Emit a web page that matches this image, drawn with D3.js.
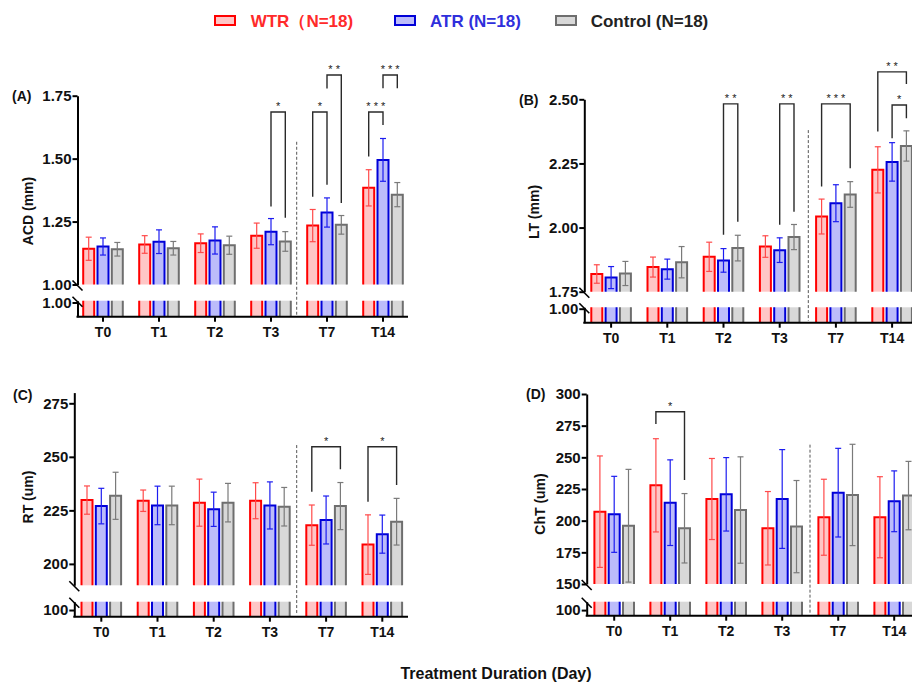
<!DOCTYPE html>
<html>
<head>
<meta charset="utf-8">
<script src="https://cdn.jsdelivr.net/npm/d3@7"></script>
<style>
  body { margin: 0; background: #fff; }
  svg { font-family: "Liberation Sans", Arial, sans-serif; font-weight: bold; }
</style>
</head>
<body>
<script>
const groups = ["T0", "T1", "T2", "T3", "T7", "T14"];
const seriesNames = ["WTR（N=18)", "ATR (N=18)", "Control (N=18)"];

// means / SD per series: [WTR, ATR, Control]
const acdMean = [[1.142, 1.159, 1.164, 1.194, 1.234, 1.384],
                 [1.151, 1.170, 1.175, 1.210, 1.286, 1.495],
                 [1.140, 1.144, 1.156, 1.171, 1.237, 1.357]];
const acdSD = [[0.046, 0.035, 0.037, 0.050, 0.064, 0.072],
               [0.034, 0.047, 0.054, 0.052, 0.058, 0.085],
               [0.027, 0.027, 0.036, 0.039, 0.037, 0.048]];

const ltMean = [[1.819, 1.846, 1.886, 1.926, 2.043, 2.225],
                [1.805, 1.838, 1.872, 1.912, 2.095, 2.256],
                [1.821, 1.865, 1.920, 1.963, 2.129, 2.318]];
const ltSD = [[0.036, 0.039, 0.057, 0.042, 0.068, 0.090],
              [0.043, 0.039, 0.046, 0.048, 0.072, 0.075],
              [0.047, 0.061, 0.050, 0.049, 0.050, 0.059]];

const rtMean = [[229.8, 229.5, 228.6, 229.5, 218.1, 209.0],
                [227.0, 227.3, 225.5, 227.3, 220.5, 213.9],
                [231.8, 227.3, 228.6, 226.7, 227.0, 219.7]];
const rtSD = [[6.6, 5.0, 11.0, 8.4, 9.4, 13.9],
              [8.3, 9.0, 8.0, 11.0, 11.2, 8.9],
              [11.0, 9.0, 9.0, 9.0, 11.0, 10.9]];

const chtMean = [[207.1, 227.9, 217.1, 194.0, 202.7, 202.7],
                 [205.0, 214.2, 220.8, 217.1, 222.1, 215.3],
                 [196.0, 194.0, 208.4, 195.3, 220.3, 219.8]];
const chtSD = [[44.0, 36.8, 32.0, 29.0, 30.0, 32.0],
               [30.0, 33.8, 29.0, 39.0, 35.0, 24.0],
               [44.5, 27.4, 42.0, 36.4, 40.0, 27.0]];

// significance: [group, from series, to series, label, bracket top, left leg end, right leg end]
const acdSig = [["T3", 1, 2, "*", 1.685, 1.310, 1.265],
                ["T7", 0, 1, "*", 1.685, 1.349, 1.396],
                ["T7", 1, 2, "**", 1.832, 1.779, 1.324],
                ["T14", 0, 1, "***", 1.685, 1.508, 1.634],
                ["T14", 1, 2, "***", 1.832, 1.780, 1.780]];
const ltSig = [["T2", 1, 2, "**", 2.482, 1.972, 2.023],
               ["T3", 1, 2, "**", 2.482, 2.011, 2.062],
               ["T7", 0, 2, "***", 2.482, 2.160, 2.231],
               ["T14", 0, 2, "**", 2.607, 2.374, 2.560],
               ["T14", 1, 2, "*", 2.478, 2.348, 2.426]];
const rtSig = [["T7", 0, 2, "*", 254.7, 233.7, 244.2],
               ["T14", 0, 2, "*", 254.7, 229.0, 236.8]];
const chtSig = [["T1", 0, 2, "*", 286, 276.3, 232.1]];

const acdTicks = [1.00, 1.25, 1.50, 1.75],
      ltTicks = [1.75, 2.00, 2.25, 2.50],
      rtTicks = [200, 225, 250, 275],
      chtTicks = [150, 175, 200, 225, 250, 275, 300];

const strokeCol = ["#ff0000", "#0000d8", "#6e6e6e"],
      fillCol = ["#ffc6c6", "#bcbcfa", "#d8d8d8"],
      errCol = ["#ff4a4a", "#1c1cf0", "#7a7a7a"],
      legendText = ["#ff2a2a", "#2f2fdc", "#222"];

const width = 912, height = 684;
const svg = d3.select("body").append("svg")
  .attr("width", width).attr("height", height);

const panels = [
  {tag: "(A)", title: "ACD (mm)", mean: acdMean, sd: acdSD, sig: acdSig, ticks: acdTicks, fmt: d3.format(".2f"),
   axisX: 77.5, x0: 75, step: 56, xEnd: 408, axisY: 316.7,
   upDomain: [1.00, 1.75], upRange: [284.5, 95.7], lowDomain: [0.6, 1.05], lowRange: [316.7, 300.7], lowTick: 1.00,
   dashX: 296.7, dashTop: 1.567, titleX: 28, titleY: 211, tagX: 12, tagY: 101},
  {tag: "(B)", title: "LT (mm)", mean: ltMean, sd: ltSD, sig: ltSig, ticks: ltTicks, fmt: d3.format(".2f"),
   axisX: 584.3, x0: 583, step: 56.2, xEnd: 912, axisY: 322.7,
   upDomain: [1.75, 2.50], upRange: [291.7, 99.3], lowDomain: [0.6, 1.04], lowRange: [322.7, 307.3], lowTick: 1.00,
   dashX: 808.3, dashTop: 2.38, titleX: 534, titleY: 212, tagX: 519, tagY: 105},
  {tag: "(C)", title: "RT (um)", mean: rtMean, sd: rtSD, sig: rtSig, ticks: rtTicks, fmt: d3.format("d"),
   axisX: 74.3, x0: 73.2, step: 56.2, xEnd: 408, axisY: 616.7,
   upDomain: [190, 280], upRange: [585.3, 392.6], lowDomain: [80, 125], lowRange: [616.7, 601.7], lowTick: 100,
   dashX: 296.7, dashTop: 255.5, titleX: 28, titleY: 497, tagX: 13, tagY: 400},
  {tag: "(D)", title: "ChT (um)", mean: chtMean, sd: chtSD, sig: chtSig, ticks: chtTicks, fmt: d3.format("d"),
   axisX: 586.7, x0: 586.2, step: 56, xEnd: 912, axisY: 615.7,
   upDomain: [150, 300], upRange: [584, 394], lowDomain: [80, 130], lowRange: [615.7, 601.7], lowTick: 100,
   dashX: 810, dashTop: 260, titleX: 540, titleY: 504, tagX: 526, tagY: 399}
];

const barW = 11, offs = [-14.3, 0, 14.3], capW = 6;

panels.forEach(function(p) {
  const g = svg.append("g");

  const x = d3.scaleBand().domain(groups).range([p.x0, p.x0 + p.step * groups.length]);
  const yU = d3.scaleLinear().domain(p.upDomain).range(p.upRange);
  const yL = d3.scaleLinear().domain(p.lowDomain).range(p.lowRange);
  const cx = (grp, s) => x(grp) + x.bandwidth() / 2 + offs[s];

  // dashed separator between T3 and T7
  g.append("line")
    .attr("x1", p.dashX).attr("x2", p.dashX)
    .attr("y1", yU(p.dashTop)).attr("y2", p.axisY - 2)
    .attr("stroke", "#555").attr("stroke-width", 1)
    .attr("stroke-dasharray", "3,2");

  // bars: upper and lower segment
  for (let s = 0; s < 3; s++) {
    const bars = g.append("g").selectAll("g")
      .data(groups.map((grp, i) => ({grp: grp, v: p.mean[s][i], sd: p.sd[s][i]})))
      .join("g");

    bars.append("rect")
      .attr("x", d => cx(d.grp, s) - barW / 2)
      .attr("y", d => yU(d.v))
      .attr("width", barW)
      .attr("height", d => yU(p.upDomain[0]) - yU(d.v))
      .attr("fill", fillCol[s]);
    bars.append("path")
      .attr("d", d => `M${cx(d.grp, s) - barW / 2},${yU(p.upDomain[0])}V${yU(d.v)}H${cx(d.grp, s) + barW / 2}V${yU(p.upDomain[0])}`)
      .attr("fill", "none").attr("stroke", strokeCol[s]).attr("stroke-width", 2);

    bars.append("rect")
      .attr("x", d => cx(d.grp, s) - barW / 2)
      .attr("y", yL(p.lowDomain[1]))
      .attr("width", barW)
      .attr("height", yL(p.lowDomain[0]) - yL(p.lowDomain[1]))
      .attr("fill", fillCol[s]);
    bars.append("path")
      .attr("d", d => `M${cx(d.grp, s) - barW / 2},${yL(p.lowDomain[0])}V${yL(p.lowDomain[1])}M${cx(d.grp, s) + barW / 2},${yL(p.lowDomain[1])}V${yL(p.lowDomain[0])}`)
      .attr("fill", "none").attr("stroke", strokeCol[s]).attr("stroke-width", 2);

    // error bars
    const eb = bars.append("g").attr("stroke", errCol[s]).attr("stroke-width", 1.2);
    eb.append("line")
      .attr("x1", d => cx(d.grp, s)).attr("x2", d => cx(d.grp, s))
      .attr("y1", d => yU(d.v - d.sd)).attr("y2", d => yU(d.v + d.sd));
    eb.append("line")
      .attr("x1", d => cx(d.grp, s) - capW / 2).attr("x2", d => cx(d.grp, s) + capW / 2)
      .attr("y1", d => yU(d.v + d.sd)).attr("y2", d => yU(d.v + d.sd));
    eb.append("line")
      .attr("x1", d => cx(d.grp, s) - capW / 2).attr("x2", d => cx(d.grp, s) + capW / 2)
      .attr("y1", d => yU(d.v - d.sd)).attr("y2", d => yU(d.v - d.sd));
  }

  // significance brackets
  p.sig.forEach(function(b) {
    const xa = cx(b[0], b[1]), xb = cx(b[0], b[2]), top = yU(b[4]);
    g.append("path")
      .attr("d", `M${xa},${yU(b[5])}V${top}H${xb}V${yU(b[6])}`)
      .attr("fill", "none").attr("stroke", "#2a2a2a").attr("stroke-width", 1.4);
    g.append("text")
      .attr("x", (xa + xb) / 2).attr("y", top - 2)
      .attr("text-anchor", "middle")
      .style("font-size", "11px").style("font-weight", "normal")
      .attr("fill", "#222")
      .text(b[3].split("").join(" "));
  });

  // y axes (upper and lower segment)
  const axU = g.append("g")
    .attr("transform", `translate(${p.axisX},0)`)
    .call(d3.axisLeft(yU).tickValues(p.ticks).tickFormat(p.fmt).tickSize(5).tickSizeOuter(0));
  const axL = g.append("g")
    .attr("transform", `translate(${p.axisX},0)`)
    .call(d3.axisLeft(yL).tickValues([p.lowTick]).tickFormat(p.fmt).tickSize(5).tickSizeOuter(0));
  [axU, axL].forEach(function(ax) {
    ax.select(".domain").attr("stroke", "#000").attr("stroke-width", 2);
    ax.selectAll(".tick line").attr("stroke", "#000").attr("stroke-width", 2);
    ax.selectAll(".tick text")
      .attr("x", -6).attr("fill", "#111")
      .style("font-size", "15px").style("font-family", "'Liberation Sans', Arial, sans-serif")
      .style("font-weight", "bold");
  });

  // break marks
  [yU(p.upDomain[0]) + 1, yL(p.lowDomain[1]) + 1].forEach(function(yb) {
    g.append("line")
      .attr("x1", p.axisX - 5).attr("y1", yb - 5)
      .attr("x2", p.axisX + 5).attr("y2", yb + 5)
      .attr("stroke", "#000").attr("stroke-width", 1.6);
  });

  // x axis
  const axX = g.append("g")
    .attr("transform", `translate(0,${p.axisY})`)
    .call(d3.axisBottom(x).tickSize(5).tickSizeOuter(0));
  axX.select(".domain").remove();
  axX.selectAll(".tick line").attr("stroke", "#000").attr("stroke-width", 2);
  axX.selectAll(".tick text")
    .attr("y", 10).attr("fill", "#111")
    .style("font-size", "14px").style("font-family", "'Liberation Sans', Arial, sans-serif")
    .style("font-weight", "bold");
  g.append("line")
    .attr("x1", p.axisX - 1).attr("x2", p.xEnd)
    .attr("y1", p.axisY).attr("y2", p.axisY)
    .attr("stroke", "#000").attr("stroke-width", 2);

  // axis title and panel tag
  g.append("text")
    .attr("transform", `translate(${p.titleX + 5},${p.titleY}) rotate(-90)`)
    .attr("text-anchor", "middle")
    .style("font-size", "14px").attr("fill", "#111")
    .text(p.title);
  g.append("text")
    .attr("x", p.tagX).attr("y", p.tagY)
    .style("font-size", "14px").attr("fill", "#111")
    .text(p.tag);
});

// legend
const legendX = [215, 395, 556], legendTx = [250.7, 430, 590.7];
seriesNames.forEach(function(name, i) {
  svg.append("rect")
    .attr("x", legendX[i]).attr("y", 16)
    .attr("width", 20).attr("height", 9)
    .attr("fill", fillCol[i]).attr("stroke", strokeCol[i]).attr("stroke-width", 2);
  svg.append("text")
    .attr("x", legendTx[i]).attr("y", 27)
    .style("font-size", "17px").attr("fill", legendText[i])
    .text(name);
});

svg.append("text")
  .attr("x", 496).attr("y", 679)
  .attr("text-anchor", "middle")
  .style("font-size", "16px").attr("fill", "#111")
  .text("Treatment Duration (Day)");
</script>
</body>
</html>
